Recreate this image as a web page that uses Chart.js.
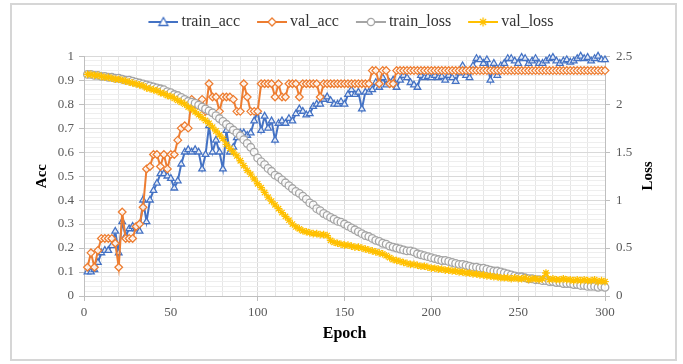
<!DOCTYPE html>
<html lang="en">
<head>
<meta charset="UTF-8">
<title>Training accuracy and loss</title>
<style>
  body { margin: 0; background: #fff; }
</style>
</head>
<body>
<canvas id="trainChart" width="683" height="364"></canvas>
<script src="https://cdn.jsdelivr.net/npm/chart.js"></script>
<script>
// epochs (every 2nd epoch)
const epochs = [
  2, 4, 6, 8, 10, 12, 14, 16, 18, 20,
  22, 24, 26, 28, 30, 32, 34, 36, 38, 40,
  42, 44, 46, 48, 50, 52, 54, 56, 58, 60,
  62, 64, 66, 68, 70, 72, 74, 76, 78, 80,
  82, 84, 86, 88, 90, 92, 94, 96, 98, 100,
  102, 104, 106, 108, 110, 112, 114, 116, 118, 120,
  122, 124, 126, 128, 130, 132, 134, 136, 138, 140,
  142, 144, 146, 148, 150, 152, 154, 156, 158, 160,
  162, 164, 166, 168, 170, 172, 174, 176, 178, 180,
  182, 184, 186, 188, 190, 192, 194, 196, 198, 200,
  202, 204, 206, 208, 210, 212, 214, 216, 218, 220,
  222, 224, 226, 228, 230, 232, 234, 236, 238, 240,
  242, 244, 246, 248, 250, 252, 254, 256, 258, 260,
  262, 264, 266, 268, 270, 272, 274, 276, 278, 280,
  282, 284, 286, 288, 290, 292, 294, 296, 298, 300
];

const trainAcc = [
  0.10, 0.10, 0.11, 0.14, 0.18, 0.19, 0.19, 0.21, 0.27, 0.18,
  0.31, 0.25, 0.28, 0.29, 0.28, 0.27, 0.40, 0.31, 0.40, 0.44,
  0.47, 0.51, 0.51, 0.50, 0.49, 0.45, 0.48, 0.55, 0.60, 0.61,
  0.60, 0.61, 0.60, 0.53, 0.59, 0.71, 0.60, 0.65, 0.60, 0.53,
  0.69, 0.60, 0.62, 0.66, 0.68, 0.68, 0.67, 0.68, 0.73, 0.77,
  0.69, 0.75, 0.70, 0.73, 0.65, 0.72, 0.73, 0.72, 0.74, 0.73,
  0.76, 0.78, 0.77, 0.755, 0.76, 0.79, 0.80, 0.80, 0.82, 0.83,
  0.815, 0.80, 0.80, 0.81, 0.80, 0.84, 0.86, 0.84, 0.85, 0.78,
  0.85, 0.85, 0.86, 0.89, 0.87, 0.91, 0.88, 0.89, 0.90, 0.87,
  0.90, 0.92, 0.91, 0.89, 0.88, 0.87, 0.92, 0.91, 0.915, 0.91,
  0.92, 0.91, 0.915, 0.90, 0.92, 0.91, 0.895, 0.93, 0.96, 0.92,
  0.91, 0.96, 0.99, 0.985, 0.97, 0.985, 0.90, 0.97, 0.92, 0.96,
  0.97, 0.99, 0.99, 0.98, 0.97, 0.995, 0.99, 0.97, 0.98, 0.99,
  0.97, 0.97, 0.98, 0.99, 0.995, 0.98, 0.97, 0.98, 0.985, 0.975,
  0.98, 0.99, 1.0, 0.99, 0.995, 0.98, 0.99, 1.0, 0.985, 0.985
];

const valAcc = [
  0.12, 0.18, 0.12, 0.19, 0.24, 0.24, 0.24, 0.24, 0.22, 0.12,
  0.35, 0.24, 0.24, 0.24, 0.29, 0.30, 0.37, 0.53, 0.54, 0.59,
  0.59, 0.54, 0.59, 0.53, 0.59, 0.59, 0.65, 0.70, 0.71, 0.70,
  0.82, 0.80, 0.80, 0.82, 0.77, 0.885, 0.83, 0.83, 0.77, 0.83,
  0.83, 0.83, 0.82, 0.77, 0.77, 0.885, 0.83, 0.77, 0.77, 0.77,
  0.885, 0.885, 0.885, 0.885, 0.83, 0.885, 0.83, 0.83, 0.885, 0.885,
  0.885, 0.83, 0.885, 0.885, 0.885, 0.885, 0.885, 0.83, 0.885, 0.885,
  0.885, 0.885, 0.885, 0.885, 0.885, 0.885, 0.885, 0.885, 0.885, 0.885,
  0.885, 0.885, 0.94, 0.94, 0.885, 0.94, 0.94, 0.885, 0.885, 0.94,
  0.94, 0.94, 0.94, 0.94, 0.94, 0.94, 0.94, 0.94, 0.94, 0.94,
  0.94, 0.94, 0.94, 0.94, 0.94, 0.94, 0.94, 0.94, 0.94, 0.94,
  0.94, 0.94, 0.94, 0.94, 0.94, 0.94, 0.94, 0.94, 0.94, 0.94,
  0.94, 0.94, 0.94, 0.94, 0.94, 0.94, 0.94, 0.94, 0.94, 0.94,
  0.94, 0.94, 0.94, 0.94, 0.94, 0.94, 0.94, 0.94, 0.94, 0.94,
  0.94, 0.94, 0.94, 0.94, 0.94, 0.94, 0.94, 0.94, 0.94, 0.94
];

const trainLoss = [
  2.31, 2.31, 2.30, 2.30, 2.29, 2.29, 2.28, 2.28, 2.27, 2.27,
  2.26, 2.25, 2.25, 2.24, 2.23, 2.22, 2.21, 2.20, 2.19, 2.18,
  2.17, 2.16, 2.15, 2.13, 2.12, 2.10, 2.09, 2.07, 2.05, 2.03,
  2.02, 2.01, 1.99, 1.97, 1.95, 1.93, 1.91, 1.88, 1.85, 1.82,
  1.79, 1.76, 1.73, 1.70, 1.67, 1.63, 1.59, 1.55, 1.50, 1.44,
  1.40, 1.37, 1.33, 1.30, 1.26, 1.24, 1.21, 1.18, 1.15, 1.12,
  1.09, 1.07, 1.04, 1.01, 0.97, 0.95, 0.91, 0.89, 0.86, 0.84,
  0.82, 0.80, 0.78, 0.77, 0.75, 0.73, 0.71, 0.69, 0.67, 0.65,
  0.63, 0.62, 0.60, 0.58, 0.57, 0.55, 0.54, 0.52, 0.51, 0.50,
  0.49, 0.48, 0.47, 0.47, 0.46, 0.44, 0.43, 0.42, 0.41, 0.40,
  0.39, 0.38, 0.37, 0.37, 0.36, 0.35, 0.34, 0.33, 0.33, 0.32,
  0.31, 0.30, 0.30, 0.29, 0.29, 0.28, 0.27, 0.26, 0.26, 0.25,
  0.24, 0.23, 0.22, 0.21, 0.20, 0.20, 0.19, 0.18, 0.18, 0.17,
  0.17, 0.16, 0.16, 0.15, 0.15, 0.14, 0.14, 0.13, 0.13, 0.13,
  0.12, 0.12, 0.11, 0.11, 0.10, 0.10, 0.10, 0.09, 0.10, 0.09
];

const valLoss = [
  2.31, 2.31, 2.30, 2.30, 2.29, 2.28, 2.28, 2.27, 2.26, 2.26,
  2.25, 2.24, 2.23, 2.22, 2.21, 2.20, 2.19, 2.17, 2.16, 2.15,
  2.14, 2.12, 2.11, 2.09, 2.08, 2.06, 2.04, 2.02, 2.00, 1.97,
  1.95, 1.92, 1.89, 1.86, 1.83, 1.80, 1.76, 1.72, 1.68, 1.64,
  1.58, 1.54, 1.50, 1.46, 1.41, 1.36, 1.31, 1.27, 1.22, 1.17,
  1.13, 1.08, 1.03, 0.99, 0.95, 0.91, 0.87, 0.83, 0.79, 0.75,
  0.72, 0.70, 0.68, 0.67, 0.66, 0.65, 0.65, 0.64, 0.64, 0.63,
  0.58, 0.56, 0.55, 0.54, 0.53, 0.53, 0.52, 0.51, 0.51, 0.50,
  0.49, 0.48, 0.47, 0.46, 0.45, 0.44, 0.42, 0.40, 0.38, 0.37,
  0.36, 0.35, 0.34, 0.33, 0.33, 0.32, 0.31, 0.31, 0.30, 0.29,
  0.29, 0.28, 0.28, 0.27, 0.27, 0.26, 0.26, 0.25, 0.25, 0.24,
  0.24, 0.23, 0.23, 0.22, 0.22, 0.21, 0.21, 0.20, 0.20, 0.19,
  0.19, 0.19, 0.18, 0.19, 0.18, 0.18, 0.19, 0.17, 0.18, 0.18,
  0.17, 0.18, 0.24, 0.17, 0.18, 0.17, 0.17, 0.18, 0.17, 0.17,
  0.16, 0.17, 0.16, 0.17, 0.16, 0.16, 0.17, 0.15, 0.16, 0.15
];

const seriesNames = ['train_acc', 'val_acc', 'train_loss', 'val_loss'];
const seriesColors = ['#4472C4', '#ED7D31', '#A5A5A5', '#FFC000'];
const seriesMarkers = ['triangle', 'rectRot', 'circle', 'star'];

const serif = "'Liberation Serif', 'Times New Roman', serif";
const gridMajor = '#d9d9d9';
const gridMinor = '#eeeeee';

function isMajor(v, step) {
    const r = v / step;
    return Math.abs(r - Math.round(r)) < 1e-6;
}

function toPoints(values) {
    return values.map((v, i) => ({ x: epochs[i], y: v }));
}

// line + marker picture for the legend; 8px empty on the left to space the items
function legendIcon(color, marker) {
    const c = document.createElement('canvas');
    c.width = 38;
    c.height = 12;
    const g = c.getContext('2d');
    g.translate(8, 0);
    g.strokeStyle = color;
    g.lineWidth = 2;
    g.beginPath();
    g.moveTo(0, 6);
    g.lineTo(30, 6);
    g.stroke();
    g.fillStyle = '#fff';
    g.lineWidth = 1.3;
    g.beginPath();
    if (marker === 'triangle') {
        g.moveTo(15, 1.5); g.lineTo(19.5, 9.5); g.lineTo(10.5, 9.5); g.closePath();
        g.fill(); g.stroke();
    } else if (marker === 'rectRot') {
        g.moveTo(15, 2); g.lineTo(19, 6); g.lineTo(15, 10); g.lineTo(11, 6); g.closePath();
        g.fill(); g.stroke();
    } else if (marker === 'circle') {
        g.arc(15, 6, 3.6, 0, Math.PI * 2);
        g.fill(); g.stroke();
    } else {
        g.moveTo(15, 1.5); g.lineTo(15, 10.5);
        g.moveTo(10.5, 6); g.lineTo(19.5, 6);
        g.moveTo(12, 3); g.lineTo(18, 9);
        g.moveTo(18, 3); g.lineTo(12, 9);
        g.stroke();
    }
    return c;
}

const icons = seriesColors.map((c, i) => legendIcon(c, seriesMarkers[i]));

const seriesData = [trainAcc, valAcc, trainLoss, valLoss];
const datasets = seriesData.map((vals, i) => ({
    label: seriesNames[i],
    data: toPoints(vals),
    yAxisID: i < 2 ? 'y' : 'y1',
    borderColor: seriesColors[i],
    backgroundColor: seriesColors[i],
    borderWidth: 2,
    pointStyle: seriesMarkers[i],
    pointRadius: 3.8,
    pointBorderWidth: 1.3,
    pointBorderColor: seriesColors[i],
    pointBackgroundColor: 'rgba(255,255,255,0.85)',
    tension: 0,
    clip: false,
    order: 3 - i
}));

const frameAndLoss = {
    id: 'frameAndLoss',
    beforeDraw(chart) {
        const ctx = chart.ctx;
        ctx.save();
        ctx.fillStyle = '#fff';
        ctx.fillRect(0, 0, chart.width, chart.height);
        ctx.strokeStyle = '#d6d6d6';
        ctx.lineWidth = 2;
        ctx.strokeRect(11, 4, 665, 356);
        ctx.restore();
    },
    afterDraw(chart) {
        const ctx = chart.ctx;
        ctx.save();
        ctx.translate(648, 176);
        ctx.rotate(-Math.PI / 2);
        ctx.font = 'bold 15px ' + serif;
        ctx.fillStyle = '#000';
        ctx.textAlign = 'center';
        ctx.textBaseline = 'middle';
        ctx.fillText('Loss', 0, 0);
        ctx.restore();
    }
};

const tickFont = { family: serif, size: 13 };

new Chart(document.getElementById('trainChart').getContext('2d'), {
    type: 'line',
    data: { datasets: datasets },
    plugins: [frameAndLoss],
    options: {
        responsive: false,
        animation: false,
        devicePixelRatio: 1,
        layout: { padding: { left: 16, right: 0, top: 0, bottom: 0 } },
        plugins: {
            legend: {
                position: 'top',
                weight: 1000,
                labels: {
                    usePointStyle: true,
                    pointStyleWidth: 28,
                    padding: 14,
                    font: { family: serif, size: 16 },
                    color: '#333',
                    generateLabels: chart => chart.data.datasets.map((ds, i) => ({
                        text: ds.label,
                        pointStyle: icons[i],
                        fillStyle: ds.borderColor,
                        strokeStyle: ds.borderColor,
                        lineWidth: 0,
                        hidden: false,
                        datasetIndex: i,
                        fontColor: '#333'
                    }))
                }
            },
            // empty title only used as a spacer under the legend
            title: {
                display: true,
                text: ' ',
                weight: 100,
                font: { size: 1 },
                padding: { top: 15, bottom: 0 }
            },
            tooltip: { enabled: false }
        },
        scales: {
            x: {
                type: 'linear',
                min: 0,
                max: 300,
                afterFit: s => { s.height = 68; },
                ticks: {
                    stepSize: 10,
                    autoSkip: false,
                    maxRotation: 0,
                    padding: 4,
                    font: tickFont,
                    color: '#595959',
                    callback: v => isMajor(v, 50) ? String(v) : ''
                },
                grid: {
                    color: c => isMajor(c.tick.value, 50) ? gridMajor : '#e6e6e6',
                    tickColor: c => isMajor(c.tick.value, 50) ? '#bfbfbf' : 'rgba(0,0,0,0)',
                    tickLength: 5
                },
                border: { color: '#bfbfbf' },
                title: {
                    display: true,
                    text: 'Epoch',
                    color: '#000',
                    font: { family: serif, size: 16, weight: 'bold' },
                    padding: { top: 0, bottom: 21 }
                }
            },
            y: {
                position: 'left',
                min: 0,
                max: 1,
                afterFit: s => { s.width = 68; },
                ticks: {
                    stepSize: 0.02,
                    autoSkip: false,
                    padding: 5,
                    font: tickFont,
                    color: '#595959',
                    callback: v => {
                        if (!isMajor(v, 0.1)) return '';
                        const r = Math.round(v * 10) / 10;
                        return (r === 0 || r === 1) ? String(r) : r.toFixed(1);
                    }
                },
                grid: {
                    color: c => isMajor(c.tick.value, 0.1) ? gridMajor : gridMinor,
                    tickColor: c => isMajor(c.tick.value, 0.1) ? '#bfbfbf' : 'rgba(0,0,0,0)',
                    tickLength: 5
                },
                border: { color: '#bfbfbf' },
                title: {
                    display: true,
                    text: 'Acc',
                    color: '#000',
                    font: { family: serif, size: 15, weight: 'bold' },
                    padding: { top: 17, bottom: 0 }
                }
            },
            y1: {
                position: 'right',
                min: 0,
                max: 2.5,
                afterFit: s => { s.width = 78; },
                ticks: {
                    stepSize: 0.5,
                    padding: 6,
                    font: tickFont,
                    color: '#595959',
                    callback: v => String(Math.round(v * 10) / 10)
                },
                grid: {
                    drawOnChartArea: false,
                    tickColor: '#bfbfbf',
                    tickLength: 5
                },
                border: { color: '#bfbfbf' }
            }
        }
    }
});
</script>
</body>
</html>
